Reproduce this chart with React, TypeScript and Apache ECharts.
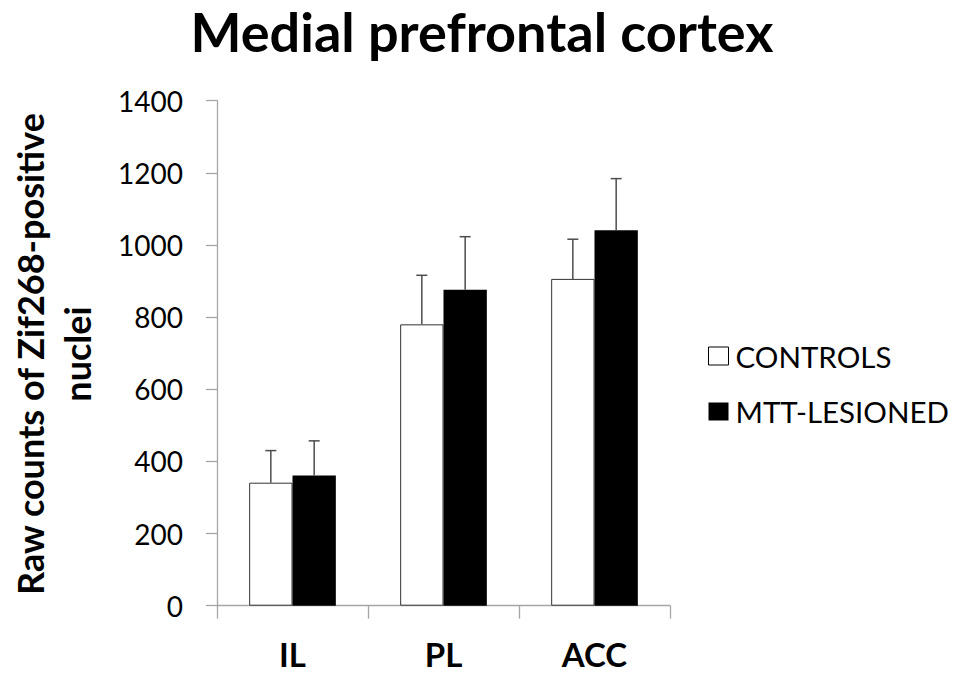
import React, { useEffect, useRef } from "react";
import * as echarts from "echarts";

const categories = ["IL", "PL", "ACC"];
const seriesNames = ["CONTROLS", "MTT-LESIONED"];
const controlsMeans = [341, 780, 906];
const controlsErrors = [89, 136, 110];
const lesionedMeans = [361, 876, 1041];
const lesionedErrors = [96, 147, 143];
const yMin = 0;
const yMax = 1400;
const yInterval = 200;

const FONT = "Lato";
const BAR_FRAC = 0.287;

export default function App() {
  const ref = useRef<HTMLDivElement>(null);

  useEffect(() => {
    document.body.style.margin = "0";
    const chart = echarts.init(ref.current as HTMLDivElement, null, { renderer: "svg" });

    const errData = (means: number[], errs: number[], side: number) =>
      means.map((m, i) => [i, m, m + errs[i], side]);

    const renderErr = (params: any, api: any) => {
      const cat = api.value(0);
      const lo = api.value(1);
      const hi = api.value(2);
      const side = api.value(3);
      const band = api.size([1, 0])[0];
      const offset = (side === 0 ? -1 : 1) * (band * BAR_FRAC) / 2;
      const p0 = api.coord([cat, lo]);
      const p1 = api.coord([cat, hi]);
      const x = p0[0] + offset;
      const cap = 5.5;
      const st = { stroke: "#4d4d4d", lineWidth: 1.5 };
      return {
        type: "group",
        children: [
          { type: "line", shape: { x1: x, y1: p0[1], x2: x, y2: p1[1] }, style: st },
          { type: "line", shape: { x1: x - cap, y1: p1[1], x2: x + cap, y2: p1[1] }, style: st },
        ],
      };
    };

    const option: any = {
      animation: false,
      backgroundColor: "#ffffff",
      title: {
        text: "Medial prefrontal cortex",
        left: 477,
        textAlign: "center",
        top: -1,
        textStyle: { fontFamily: FONT, fontWeight: "bold", fontSize: 54, color: "#000" },
      },
      grid: { left: 217, right: 291, top: 100.7, bottom: 69.3, containLabel: false },
      legend: {
        orient: "vertical",
        left: 708,
        top: 341,
        padding: 0,
        itemWidth: 20,
        itemHeight: 18,
        itemGap: 25.5,
        selectedMode: false,
        textStyle: { fontFamily: FONT, fontSize: 29.5, color: "#000", lineHeight: 29, padding: [0, 0, 0, 2] },
        data: [
          { name: seriesNames[0], icon: "rect", itemStyle: { color: "#ffffff", borderColor: "#000", borderWidth: 1 } },
          { name: seriesNames[1], icon: "rect", itemStyle: { color: "#000000", borderWidth: 0 } },
        ],
      },
      xAxis: {
        type: "category",
        data: categories,
        axisLine: { lineStyle: { color: "#a6a6a6", width: 1.3 } },
        axisTick: { show: true, length: 13, lineStyle: { color: "#a6a6a6", width: 1.3 } },
        axisLabel: { fontFamily: FONT, fontWeight: "bold", fontSize: 33, lineHeight: 30, color: "#000", margin: 33 },
        splitLine: { show: false },
      },
      yAxis: {
        type: "value",
        min: yMin,
        max: yMax,
        interval: yInterval,
        axisLine: { show: true, lineStyle: { color: "#a6a6a6", width: 1.3 } },
        axisTick: { show: true, length: 11, lineStyle: { color: "#a6a6a6", width: 1.3 } },
        axisLabel: {
          fontFamily: FONT,
          fontSize: 28,
          color: "#000",
          margin: 34,
          formatter: (v: number) => String(v),
        },
        splitLine: { show: false },
      },
      graphic: [
        {
          type: "text",
          x: 53,
          y: 354,
          rotation: Math.PI / 2,
          style: {
            text: "Raw counts of Zif268-positive\nnuclei",
            fontFamily: FONT,
            fontWeight: "bold",
            fontSize: 36,
            lineHeight: 47,
            fill: "#000",
            textAlign: "center",
            textVerticalAlign: "middle",
          },
        },
      ],
      series: [
        {
          name: seriesNames[0],
          type: "bar",
          data: controlsMeans,
          barWidth: BAR_FRAC * 100 + "%",
          barGap: "0%",
          itemStyle: { color: "#ffffff", borderColor: "#333333", borderWidth: 1 },
          emphasis: { disabled: true },
        },
        {
          name: seriesNames[1],
          type: "bar",
          data: lesionedMeans,
          barWidth: BAR_FRAC * 100 + "%",
          barGap: "0%",
          itemStyle: { color: "#000000" },
          emphasis: { disabled: true },
        },
        {
          name: "err-controls",
          type: "custom",
          data: errData(controlsMeans, controlsErrors, 0),
          renderItem: renderErr,
          encode: { x: 0, y: [1, 2] },
          z: 5,
          silent: true,
        },
        {
          name: "err-lesioned",
          type: "custom",
          data: errData(lesionedMeans, lesionedErrors, 1),
          renderItem: renderErr,
          encode: { x: 0, y: [1, 2] },
          z: 5,
          silent: true,
        },
      ],
    };

    chart.setOption(option);
    return () => chart.dispose();
  }, []);

  return (
    <div
      ref={ref}
      style={{ position: "absolute", left: 0, top: 0, width: 961, height: 675, background: "#fff" }}
    />
  );
}
